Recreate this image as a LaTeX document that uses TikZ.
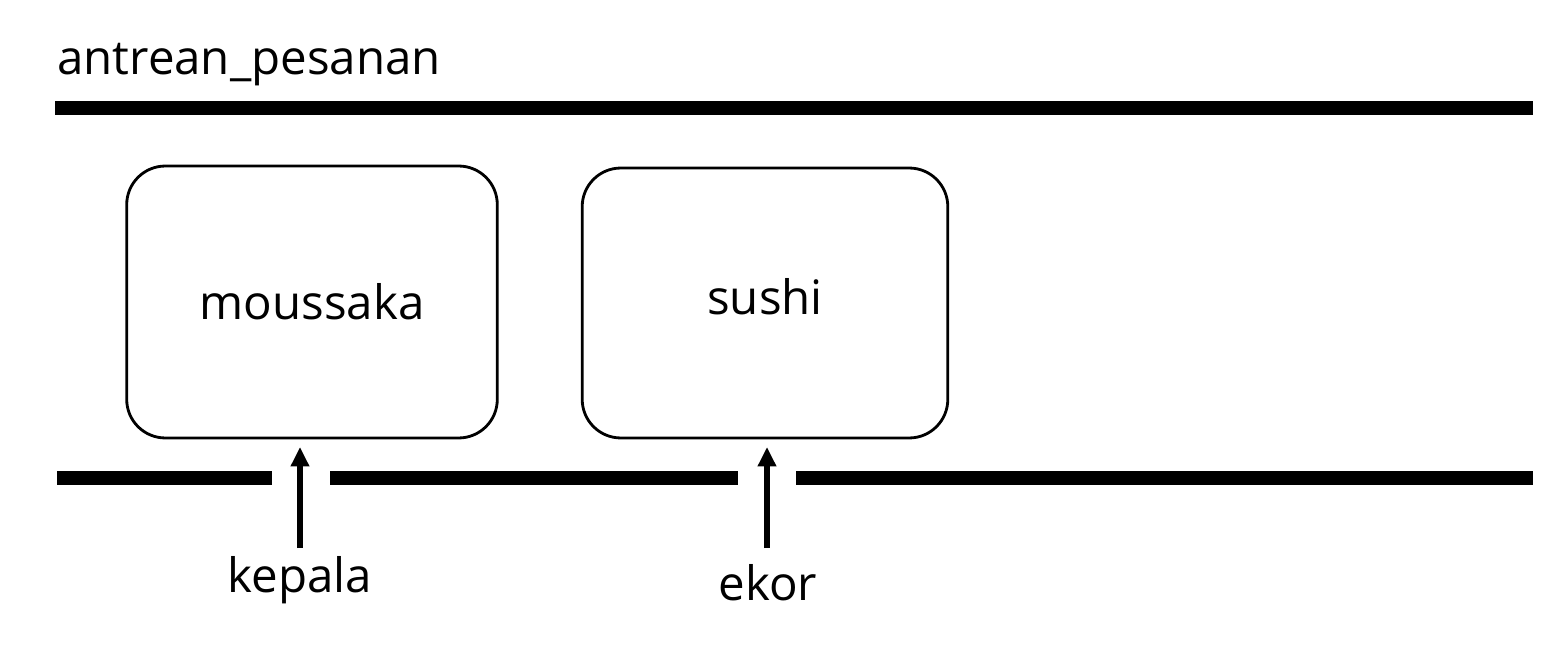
\documentclass[tikz,border=0pt]{standalone}
\usepackage{fontspec}
\setmainfont{Open Sans}
\usetikzlibrary{arrows.meta}
\begin{document}
\begin{tikzpicture}[x=0.02cm,y=-0.02cm,
  bar/.style={line width=8.5pt},
  item/.style={draw,line width=1.6pt,rounded corners=22pt,inner sep=0pt},
  lbl/.style={font=\fontsize{27}{30}\selectfont},
  ptr/.style={line width=3.2pt,-{Triangle[length=11pt,width=10pt]}}]
\useasboundingbox (0,0) rectangle (1556,672);
\node[lbl,anchor=base west,inner sep=0pt] (title) at (57,75) {antrean\_pesanan};
\coordinate (t1) at (55,108); \coordinate (t2) at (1533,108);
\draw[bar] (t1) -- (t2);
\coordinate (b1) at (57,478); \coordinate (b2) at (272,478);
\coordinate (b3) at (330,478); \coordinate (b4) at (738,478);
\coordinate (b5) at (796,478); \coordinate (b6) at (1533,478);
\draw[bar,line width=7.5pt] (b1) -- (b2) (b3) -- (b4) (b5) -- (b6);
\node[item,minimum width=372*0.567pt,minimum height=273*0.567pt] (m) at (312,302) {};
\node[lbl] at (m) {moussaka};
\node[item,minimum width=367*0.567pt,minimum height=271*0.567pt] (s) at (765,303) {};
\node[lbl] at (765,297) {sushi};
\node[lbl] (k) at (300,580) {kepala};
\node[lbl] (e) at (768,583) {ekor};
\coordinate (ka) at (300,548); \coordinate (kb) at (300,447);
\coordinate (ea) at (767,548); \coordinate (eb) at (767,447);
\draw[ptr] (ka) -- (kb);
\draw[ptr] (ea) -- (eb);
\end{tikzpicture}
\end{document}
